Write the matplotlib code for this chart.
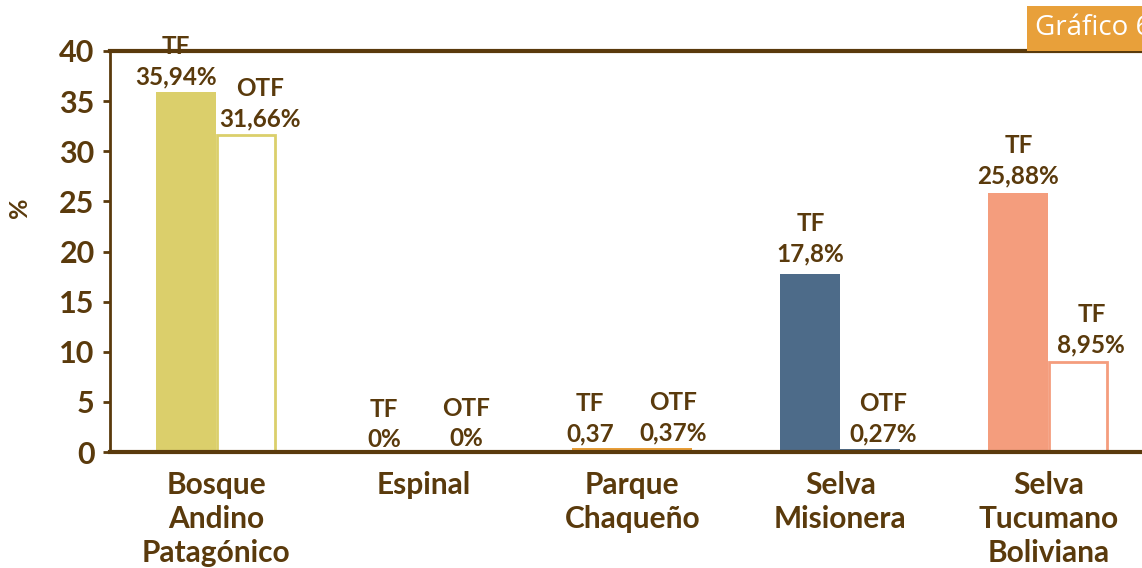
import matplotlib
matplotlib.use("Agg")
import matplotlib.pyplot as plt
from matplotlib.patches import Rectangle

categories = ["Bosque\nAndino\nPatagónico", "Espinal", "Parque\nChaqueño", "Selva\nMisionera", "Selva\nTucumano\nBoliviana"]
tf_values = [35.94, 0.0, 0.37, 17.8, 25.88]
otf_values = [31.66, 0.0, 0.37, 0.27, 8.95]
tf_labels = ["TF\n35,94%", "TF\n0%", "TF\n0,37", "TF\n17,8%", "TF\n25,88%"]
otf_labels = ["OTF\n31,66%", "OTF\n0%", "OTF\n0,37%", "OTF\n0,27%", "TF\n8,95%"]
yticks = [0, 5, 10, 15, 20, 25, 30, 35, 40]

colors = ["#DBCF6B", "#DBCF6B", "#E89E38", "#4D6B89", "#F49D7D"]
otf_hollow = [True, True, False, False, True]
tf_dx = [-10, -10, -12, 0, 0]
otf_dx = [14, 12, 11, 13, 13]
tf_dy = [3, 1, 3, 8, 5]
otf_dy = [4, 2, 4, 4, 6]

brown = "#5A3A0C"
plt.rcParams['font.family'] = ['Lato', 'DejaVu Sans']
plt.rcParams['font.weight'] = 'bold'

fig = plt.figure(figsize=(11.42, 5.68), dpi=100)
ax = fig.add_axes([110/1142, 116/568, 1 - 110/1142, (452-51)/568])

w = 0.288
x = list(range(len(categories)))
for i in x:
    ax.bar(i - w/2, tf_values[i], width=w, color=colors[i], linewidth=0)
    if otf_hollow[i]:
        ax.bar(i + w/2, otf_values[i], width=w - 0.01, facecolor="white",
               edgecolor=colors[i], linewidth=2)
    else:
        ax.bar(i + w/2, otf_values[i], width=w, color=colors[i], linewidth=0)
    ax.annotate(tf_labels[i], (i - w/2, tf_values[i]), xytext=(tf_dx[i], tf_dy[i]),
                textcoords="offset pixels", ha="center", va="bottom",
                fontsize=17.5, color=brown, fontweight="bold", linespacing=1.38,
                annotation_clip=False)
    ax.annotate(otf_labels[i], (i + w/2, otf_values[i]), xytext=(otf_dx[i], otf_dy[i]),
                textcoords="offset pixels", ha="center", va="bottom",
                fontsize=17.5, color=brown, fontweight="bold", linespacing=1.38,
                annotation_clip=False)

ax.set_xlim(-0.51, 4.45)
ax.set_ylim(0, 40)
ax.set_yticks(yticks)
ax.set_yticklabels([str(v) for v in yticks], fontsize=22, color=brown, fontweight="bold")
ax.set_xticks(x)
ax.set_xticklabels(categories, fontsize=21.5, color=brown, fontweight="bold", linespacing=1.25)
ax.tick_params(axis="x", length=0, pad=14)
ax.tick_params(axis="y", length=5, width=2, color=brown, pad=6, direction="out")
for s in ["left", "bottom", "top"]:
    ax.spines[s].set_color(brown)
ax.spines["left"].set_linewidth(2)
ax.spines["bottom"].set_linewidth(3)
ax.spines["top"].set_linewidth(3)
ax.spines["right"].set_visible(False)
ax.set_ylabel("%", fontsize=18, color=brown, fontweight="bold")
ax.yaxis.set_label_coords(-0.077, 0.61)

fig.patches.append(Rectangle((1027/1142, (568-51)/568), 1 - 1027/1142, 45/568,
                             transform=fig.transFigure, facecolor="#E8A03A",
                             edgecolor="none", zorder=5))
fig.text(1035/1142, (568-28)/568, "Gráfico 6", color="white", fontsize=20,
         fontweight="normal", va="center", ha="left", zorder=6,
         family=["Open Sans", "DejaVu Sans"])

fig.savefig("out.png", dpi=100)
